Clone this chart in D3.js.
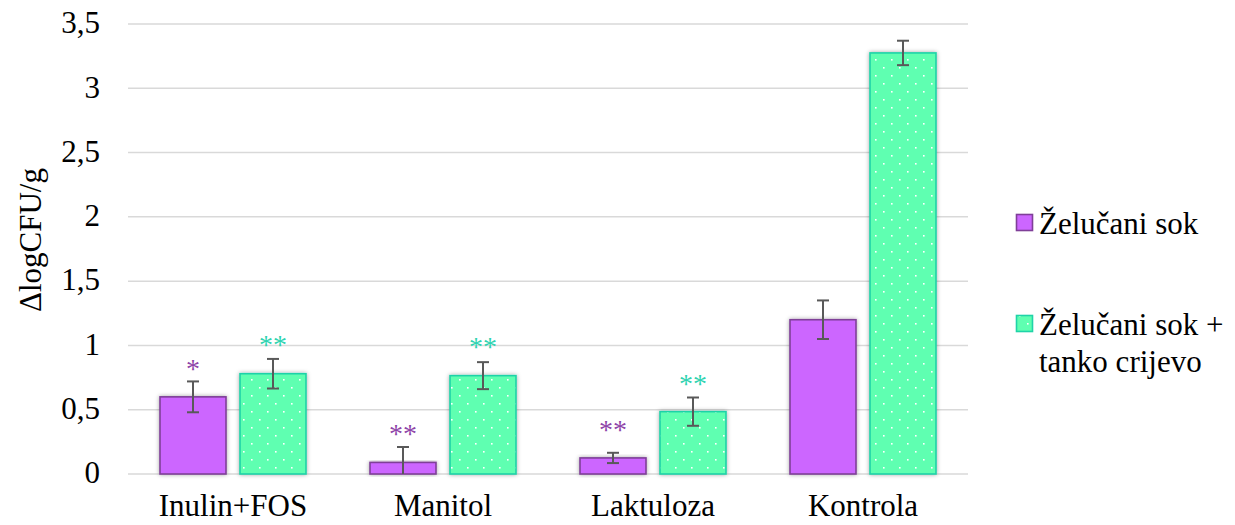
<!DOCTYPE html>
<html>
<head>
<meta charset="utf-8">
<script src="https://cdn.jsdelivr.net/npm/d3@7"></script>
<style>
  body { margin: 0; background: #fff; }
</style>
</head>
<body>
<div id="chart"></div>
<script>
// data
var categories = ["Inulin+FOS", "Manitol", "Laktuloza", "Kontrola"];
var seriesNames = ["Želučani sok", "Želučani sok + tanko crijevo"];
var gastric = [0.60, 0.09, 0.125, 1.20];
var gastricErr = [0.12, 0.12, 0.04, 0.15];
var gastricSig = ["*", "**", "**", ""];
var gastricSigAt = [0.855, 0.35, 0.38, null];
var intestine = [0.78, 0.765, 0.485, 3.275];
var intestineErr = [0.115, 0.105, 0.11, 0.095];
var intestineSig = ["**", "**", "**", ""];
var intestineSigAt = [1.04, 1.03, 0.74, null];
var yTicks = [0, 0.5, 1, 1.5, 2, 2.5, 3, 3.5];

var FONT = "Liberation Serif";

function init(){
    var w = 1235, h = 525;
    var left = 128, right = 968, top = 24, bottom = 474;

    var svg = d3.select("#chart").append("svg")
        .attr("width", w).attr("height", h);

    var defs = svg.append("defs");
    var pat = defs.append("pattern")
        .attr("id", "dots")
        .attr("patternUnits", "userSpaceOnUse")
        .attr("width", 16).attr("height", 16);
    pat.append("rect").attr("width", 16).attr("height", 16).attr("fill", "#5fffb1");
    pat.append("rect").attr("x", 3).attr("y", 3).attr("width", 1.6).attr("height", 1.6).attr("fill", "#fff");
    pat.append("rect").attr("x", 11).attr("y", 11).attr("width", 1.6).attr("height", 1.6).attr("fill", "#fff");

    var shadow = defs.append("filter").attr("id", "shadow")
        .attr("x", "-20%").attr("y", "-20%").attr("width", "140%").attr("height", "140%");
    shadow.append("feDropShadow")
        .attr("dx", 0).attr("dy", 0).attr("stdDeviation", 2.2)
        .attr("flood-color", "#000").attr("flood-opacity", 0.35);

    var x = d3.scaleBand().domain(categories).range([left, right]);
    var y = d3.scaleLinear().domain([0, 3.5]).range([bottom, top]);

    // gridlines
    svg.append("g").selectAll("line").data(yTicks).enter().append("line")
        .attr("x1", left).attr("x2", right)
        .attr("y1", function(d){ return y(d); })
        .attr("y2", function(d){ return y(d); })
        .attr("stroke", "#d9d9d9").attr("stroke-width", 1.5);

    // y tick labels
    svg.append("g").selectAll("text").data(yTicks).enter().append("text")
        .attr("x", 100)
        .attr("y", function(d){ return y(d); })
        .attr("dy", "0.3em")
        .attr("text-anchor", "end")
        .attr("font-family", FONT)
        .attr("font-size", 31)
        .text(function(d){ return String(d).replace(".", ","); });

    // y title
    svg.append("text")
        .attr("transform", "translate(41," + 240 + ") rotate(-90)")
        .attr("text-anchor", "middle")
        .attr("font-family", FONT)
        .attr("font-size", 31)
        .text("ΔlogCFU/g");

    // x labels
    svg.append("g").selectAll("text").data(categories).enter().append("text")
        .attr("x", function(d){ return x(d) + x.bandwidth()/2; })
        .attr("y", 516)
        .attr("text-anchor", "middle")
        .attr("font-family", FONT)
        .attr("font-size", 31)
        .text(function(d){ return d; });

    var barW = 66, gap = 14;
    var series = [
        { vals: gastric, err: gastricErr, sig: gastricSig, sigAt: gastricSigAt, fill: "#cc66ff", stroke: "#7f3f98", sigColor: "#8e44a8", off: -(gap/2 + barW) },
        { vals: intestine, err: intestineErr, sig: intestineSig, sigAt: intestineSigAt, fill: "url(#dots)", stroke: "#1fd3a8", sigColor: "#2ed3b0", off: gap/2 }
    ];

    series.forEach(function(s){
        var g = svg.append("g");
        g.selectAll("rect").data(categories).enter().append("rect")
            .attr("x", function(d){ return x(d) + x.bandwidth()/2 + s.off; })
            .attr("y", function(d, i){ return y(s.vals[i]); })
            .attr("width", barW)
            .attr("height", function(d, i){ return bottom - y(s.vals[i]); })
            .attr("fill", s.fill)
            .attr("stroke", s.stroke)
            .attr("stroke-width", 1.6)
            .attr("filter", "url(#shadow)");

        var cx = function(d){ return x(d) + x.bandwidth()/2 + s.off + barW/2; };
        var eg = svg.append("g").attr("stroke", "#595959").attr("stroke-width", 2);
        categories.forEach(function(d, i){
            var hiV = s.vals[i] + s.err[i], loV = s.vals[i] - s.err[i];
            var hi = y(hiV), lo = y(Math.max(0, loV));
            eg.append("line").attr("x1", cx(d)).attr("x2", cx(d)).attr("y1", hi).attr("y2", lo);
            eg.append("line").attr("x1", cx(d) - 6).attr("x2", cx(d) + 6).attr("y1", hi).attr("y2", hi);
            if (loV >= 0) {
                eg.append("line").attr("x1", cx(d) - 6).attr("x2", cx(d) + 6).attr("y1", lo).attr("y2", lo);
            }
        });

        svg.append("g").selectAll("text").data(categories).enter().append("text")
            .attr("x", cx)
            .attr("y", function(d, i){ return s.sigAt[i] == null ? 0 : y(s.sigAt[i]) + 14; })
            .attr("text-anchor", "middle")
            .attr("font-family", FONT)
            .attr("font-size", 28)
            .attr("fill", s.sigColor)
            .text(function(d, i){ return s.sig[i]; });
    });

    // legend
    var lg = svg.append("g");
    lg.append("rect").attr("x", 1016.5).attr("y", 214.5).attr("width", 16).attr("height", 16)
        .attr("fill", "#cc66ff").attr("stroke", "#7f3f98").attr("stroke-width", 1.6);
    lg.append("text").attr("x", 1039).attr("y", 234)
        .attr("font-family", FONT).attr("font-size", 31).text(seriesNames[0]);
    lg.append("rect").attr("x", 1016.5).attr("y", 315.5).attr("width", 16).attr("height", 16)
        .attr("fill", "url(#dots)").attr("stroke", "#1fd3a8").attr("stroke-width", 1.6);
    var t2 = lg.append("text").attr("x", 1039).attr("y", 335)
        .attr("font-family", FONT).attr("font-size", 31);
    t2.append("tspan").attr("x", 1039).text("Želučani sok +");
    t2.append("tspan").attr("x", 1039).attr("dy", 37).text("tanko crijevo");
}

window.onload = init;
</script>
</body>
</html>
